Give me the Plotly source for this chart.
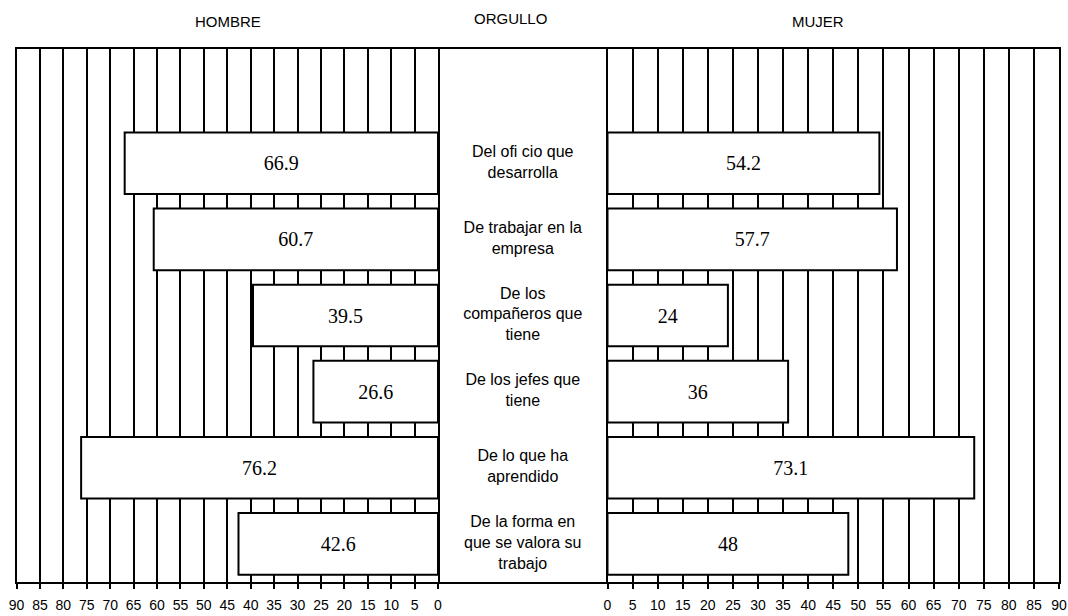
import plotly.graph_objects as go

categorias = [
    "Del ofi cio que<br>desarrolla",
    "De trabajar en la<br>empresa",
    "De los<br>compañeros que<br>tiene",
    "De los jefes que<br>tiene",
    "De lo que ha<br>aprendido",
    "De la forma en<br>que se valora su<br>trabajo",
]
hombre = [66.9, 60.7, 39.5, 26.6, 76.2, 42.6]
mujer = [54.2, 57.7, 24, 36, 73.1, 48]
ticks = list(range(0, 95, 5))

W, H = 1068, 616
TOP, BOTTOM = 49, 582
pos = list(range(len(categorias)))

bar_style = dict(
    orientation="h",
    width=0.81,
    marker=dict(color="white", line=dict(color="black", width=2)),
    textposition="inside",
    insidetextanchor="middle",
    textangle=0,
    textfont=dict(family="Liberation Serif", size=20, color="black"),
    hoverinfo="skip",
    showlegend=False,
)

fig = go.Figure()
fig.add_trace(go.Bar(x=hombre, y=pos, text=[str(v) for v in hombre],
                     xaxis="x", yaxis="y", **bar_style))
fig.add_trace(go.Bar(x=mujer, y=pos, text=[str(v) for v in mujer],
                     xaxis="x2", yaxis="y2", **bar_style))
fig.add_trace(go.Scatter(
    x=[0.5] * len(categorias), y=pos, text=categorias, mode="text",
    textfont=dict(family="Liberation Sans", size=16, color="black"),
    xaxis="x3", yaxis="y3", hoverinfo="skip", showlegend=False,
))

side_axis = dict(
    tickvals=ticks,
    showgrid=True, gridcolor="black", gridwidth=1.5,
    showline=True, linecolor="black", linewidth=2, mirror=True,
    ticks="outside", ticklen=5, tickcolor="black", tickwidth=1.5,
    ticklabelstandoff=4,
    tickfont=dict(family="Liberation Sans", size=14, color="black"),
    zeroline=False, fixedrange=True, automargin=False,
)
y_axis = dict(
    range=[5.5, -1.5], showgrid=False, showticklabels=False, ticks="",
    zeroline=False, fixedrange=True, automargin=False,
)

fig.update_layout(
    width=W, height=H,
    margin=dict(l=0, r=0, t=TOP, b=H - BOTTOM, autoexpand=False),
    paper_bgcolor="white", plot_bgcolor="white",
    barmode="overlay",
    xaxis=dict(domain=[16.5 / W, 438 / W], range=[90, 0], anchor="y", **side_axis),
    xaxis2=dict(domain=[607.5 / W, 1059 / W], range=[0, 90], anchor="y2", **side_axis),
    xaxis3=dict(domain=[438 / W, 607.5 / W], range=[0, 1], anchor="y3",
                showgrid=False, showticklabels=False, zeroline=False,
                showline=True, linecolor="black", linewidth=2, mirror=True,
                fixedrange=True),
    yaxis=dict(anchor="x", showline=True, linecolor="black", linewidth=2,
               mirror=True, **y_axis),
    yaxis2=dict(anchor="x2", matches="y", showline=True, linecolor="black",
                linewidth=2, mirror=True, **y_axis),
    yaxis3=dict(anchor="x3", matches="y", showline=False, **y_axis),
    font=dict(family="Liberation Sans", color="black"),
)

head_font = dict(family="Liberation Sans", size=15, color="black")
for txt, px_x, px_y in [("HOMBRE", 228, 21), ("ORGULLO", 510, 19), ("MUJER", 818, 22)]:
    fig.add_annotation(text=txt, x=px_x / W, y=(BOTTOM - px_y) / (BOTTOM - TOP),
                       xref="paper", yref="paper", showarrow=False,
                       xanchor="center", yanchor="middle", font=head_font)

fig.write_html("out.html", config={"displayModeBar": False},
               post_script="document.body.style.margin='0';")
